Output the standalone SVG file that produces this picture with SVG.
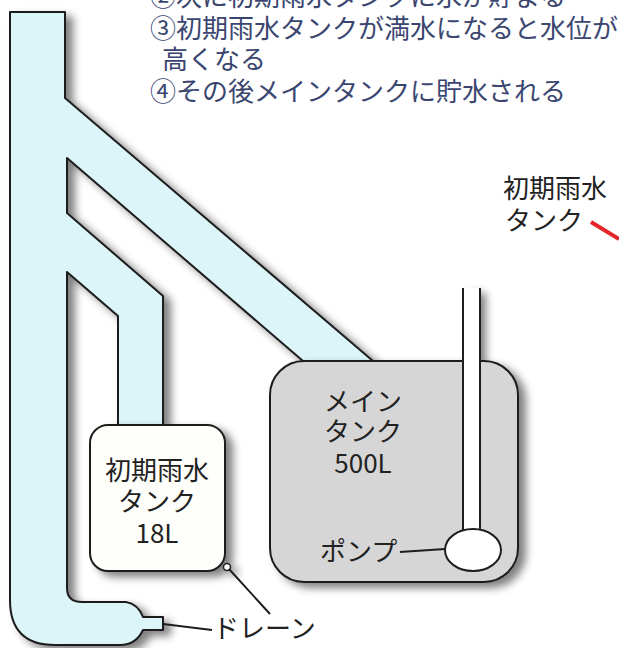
<svg xmlns="http://www.w3.org/2000/svg" width="619" height="648" viewBox="0 0 619 648">
  <defs>
    <filter id="shadow" x="-10%" y="-10%" width="130%" height="130%">
      <feGaussianBlur in="SourceAlpha" stdDeviation="4"/>
      <feOffset dx="7" dy="5" result="b"/>
      <feComponentTransfer><feFuncA type="linear" slope="0.5"/></feComponentTransfer>
      <feMerge><feMergeNode/><feMergeNode in="SourceGraphic"/></feMerge>
    </filter>
  </defs>
  <style>
    .note { font-family: "Noto Sans CJK JP", "Noto Sans", sans-serif; font-size: 26px; fill: #3a4670; }
    .lbl { font-family: "Noto Sans CJK JP", "Noto Sans", sans-serif; font-size: 26px; fill: #222; }
    .pipe { fill: #dbf5f9; stroke: #1e1e1e; stroke-width: 2; stroke-linejoin: round; }
    .line { fill: none; stroke: #1e1e1e; stroke-width: 2; }
  </style>
  <rect width="619" height="648" fill="#ffffff"/>

  <!-- explanatory notes -->
  <g id="notes">
    <text class="note" x="150" y="6">②次に初期雨水タンクに水が貯まる</text>
    <text class="note" x="150" y="38">③初期雨水タンクが満水になると水位が</text>
    <text class="note" x="162" y="69">高くなる</text>
    <text class="note" x="150" y="101">④その後メインタンクに貯水される</text>
  </g>

  <!-- downpipe with branches -->
  <g id="pipe" filter="url(#shadow)">
    <path class="pipe" d="M 10 12 H 65 V 98 L 373 361 H 303 L 67 158 V 213 L 163 296 V 425 H 118 V 316 L 67 272 V 588 Q 67 602 82 602 H 126 Q 138 604 143 617 H 163 V 630 H 143 Q 136 645 120 645 H 55 Q 10 645 10 600 Z"/>
  </g>

  <!-- first-flush tank -->
  <g id="first-flush-tank" filter="url(#shadow)">
    <rect x="90" y="425" width="135" height="146" rx="18" fill="#fefefa" stroke="#1e1e1e" stroke-width="2"/>
    <circle cx="227" cy="567" r="3.5" fill="#fefefa" stroke="#1e1e1e" stroke-width="1.5"/>
  </g>
  <g id="first-flush-label">
    <text class="lbl" x="157" y="480" text-anchor="middle">初期雨水</text>
    <text class="lbl" x="157" y="511" text-anchor="middle">タンク</text>
    <text class="lbl" x="157" y="543" text-anchor="middle">18L</text>
  </g>

  <!-- main tank with pump pipe -->
  <g id="main-tank">
    <g filter="url(#shadow)">
      <rect x="270" y="361" width="248" height="221" rx="34" fill="#d6d6d6" stroke="#1e1e1e" stroke-width="2"/>
      <rect x="464" y="288" width="15" height="242" fill="#ffffff"/>
    </g>
    <line class="line" x1="463" y1="288" x2="463" y2="530"/>
    <line class="line" x1="480" y1="288" x2="480" y2="530"/>
    <text class="lbl" x="363" y="411" text-anchor="middle">メイン</text>
    <text class="lbl" x="363" y="441" text-anchor="middle">タンク</text>
    <text class="lbl" x="363" y="473" text-anchor="middle">500L</text>
  </g>

  <g id="pump">
    <ellipse cx="473" cy="550" rx="28" ry="21" fill="#ffffff" stroke="#1e1e1e" stroke-width="2"/>
    <text class="lbl" x="320" y="561">ポンプ</text>
  </g>

  <g id="drain-label">
    <text class="lbl" x="213" y="638">ドレーン</text>
  </g>

  <g id="callout">
    <text class="lbl" x="503" y="198">初期雨水</text>
    <text class="lbl" x="505" y="230">タンク</text>
  </g>

  <!-- leader lines -->
  <g id="connectors">
    <line class="line" x1="163" y1="624" x2="212" y2="630"/>
    <line class="line" x1="229" y1="569" x2="270" y2="614"/>
    <line class="line" x1="400" y1="552" x2="445" y2="549"/>
    <line x1="591" y1="222" x2="619" y2="239" stroke="#e3262a" stroke-width="4"/>
  </g>
</svg>
